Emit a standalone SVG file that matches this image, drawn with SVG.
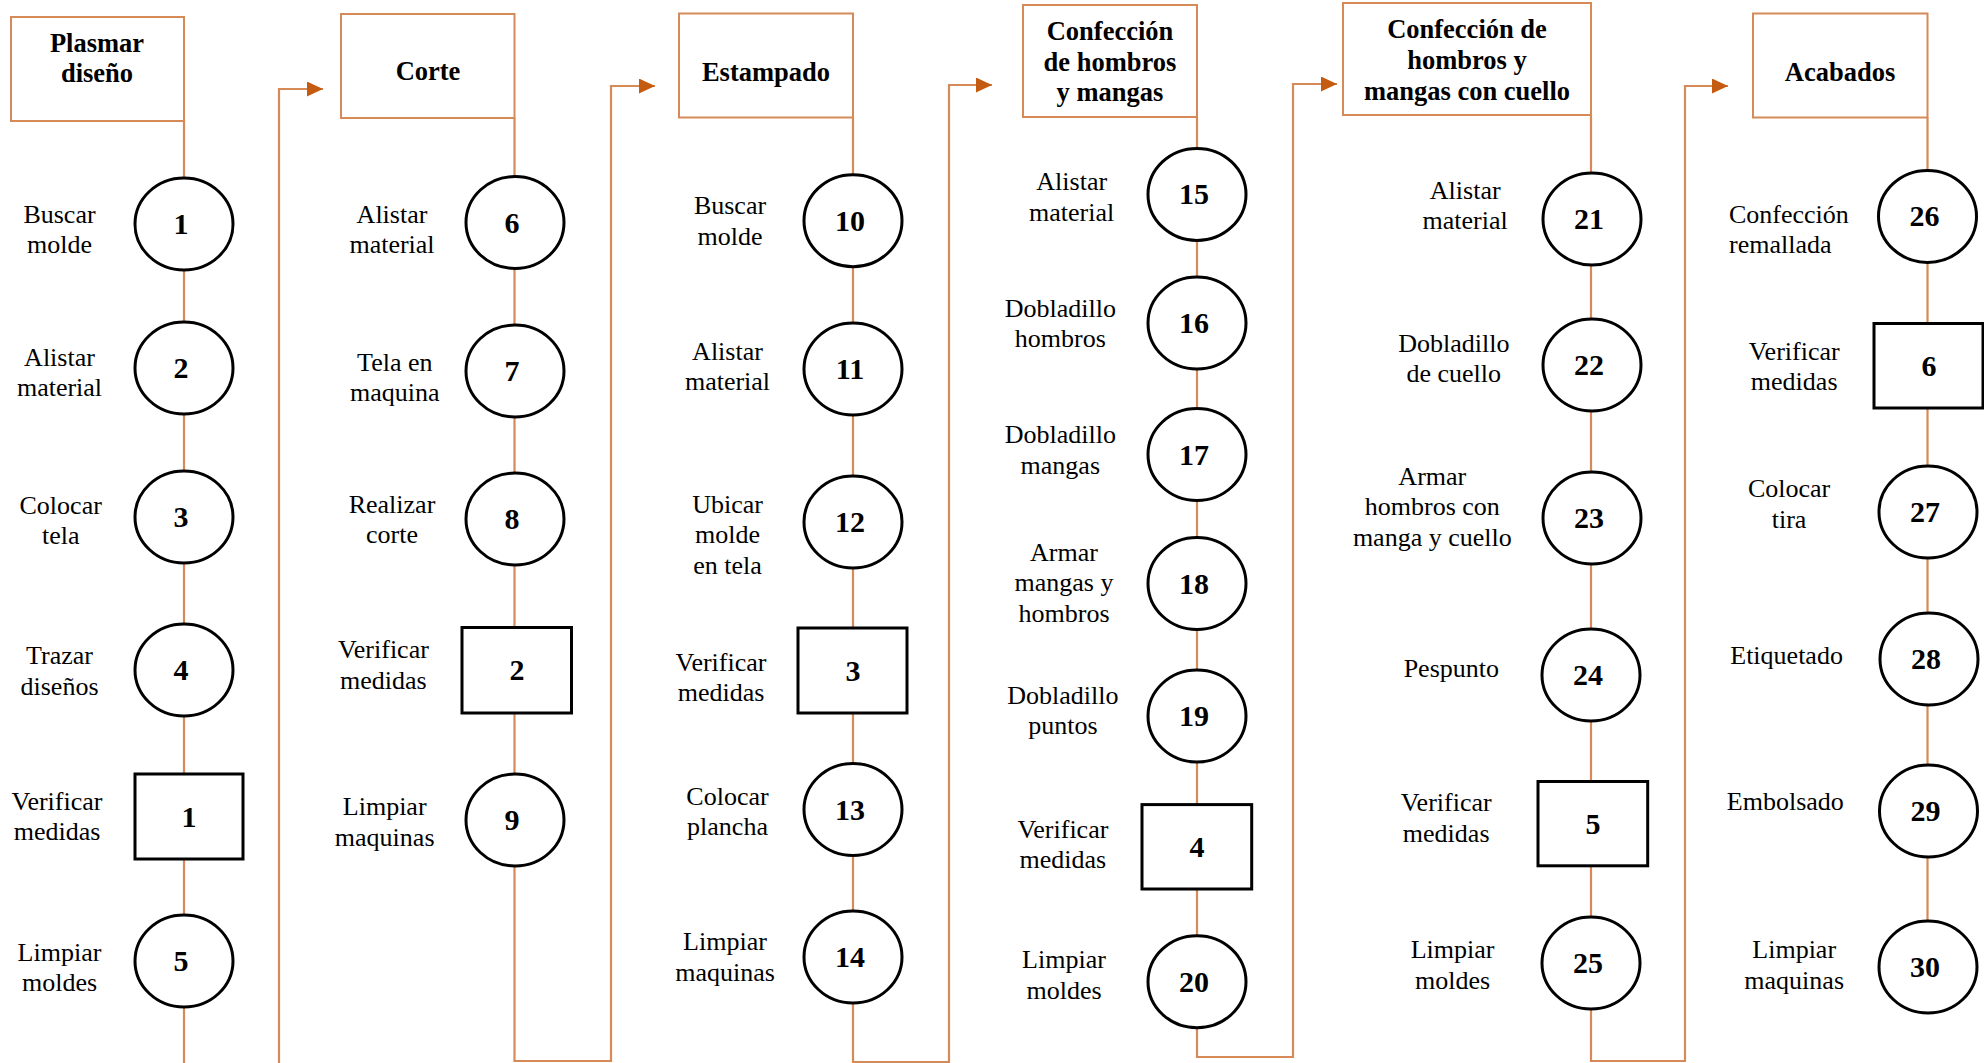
<svg xmlns="http://www.w3.org/2000/svg" width="1984" height="1063" viewBox="0 0 1984 1063">
<style>
.bg{fill:#ffffff}
.hdr{fill:#ffffff;stroke:#D68A58;stroke-width:2}
.ln{fill:none;stroke:#D68A58;stroke-width:2.2}
.op{fill:#ffffff;stroke:#000000;stroke-width:3}
.lbl{font-family:"Liberation Serif","Times New Roman",serif;font-size:26px;fill:#000;text-anchor:middle}
.lbll{font-family:"Liberation Serif","Times New Roman",serif;font-size:26px;fill:#000;text-anchor:start}
.ttl{font-family:"Liberation Serif","Times New Roman",serif;font-size:26.5px;font-weight:bold;fill:#000;text-anchor:middle}
.num{font-family:"Liberation Serif","Times New Roman",serif;font-size:30px;font-weight:bold;fill:#000;text-anchor:middle}
</style>
<defs>
<marker id="arr" markerUnits="userSpaceOnUse" viewBox="0 0 16 15" markerWidth="16" markerHeight="15" refX="16" refY="7.5" orient="auto">
<path d="M0,0 L16,7.5 L0,15 z" fill="#C55A11"/>
</marker>
</defs>
<rect class="bg" x="0" y="0" width="1984" height="1063"/>

<g id="connectors">
<line class="ln" x1="184" y1="121" x2="184" y2="1063"/>
<path class="ln" d="M279,1063 V89 H323" marker-end="url(#arr)"/>
<path class="ln" d="M514.5,118 V1061 H611 V86 H655" marker-end="url(#arr)"/>
<path class="ln" d="M853,117.6 V1062 H949 V85 H992" marker-end="url(#arr)"/>
<path class="ln" d="M1197,117 V1057 H1293 V84 H1337" marker-end="url(#arr)"/>
<path class="ln" d="M1591,115 V1061 H1685 V86 H1728" marker-end="url(#arr)"/>
<line class="ln" x1="1927.5" y1="117.6" x2="1927.5" y2="967"/>
</g>

<!-- Column 1 -->
<g id="h1"><rect class="hdr" x="11" y="17" width="173" height="104"/><text class="ttl" x="97" y="52">Plasmar</text><text class="ttl" x="97" y="82">diseño</text></g>
<g id="n1"><ellipse class="op" cx="184" cy="224" rx="49" ry="46"/><text class="num" x="181" y="234">1</text><text class="lbl" x="59.5" y="222.8">Buscar</text><text class="lbl" x="59.5" y="253.3">molde</text></g>
<g id="n2"><ellipse class="op" cx="184" cy="368" rx="49" ry="46"/><text class="num" x="181" y="378">2</text><text class="lbl" x="59.5" y="365.8">Alistar</text><text class="lbl" x="59.5" y="396.3">material</text></g>
<g id="n3"><ellipse class="op" cx="184" cy="517" rx="49" ry="46"/><text class="num" x="181" y="527">3</text><text class="lbl" x="60.7" y="513.9">Colocar</text><text class="lbl" x="60.7" y="544.4">tela</text></g>
<g id="n4"><ellipse class="op" cx="184" cy="670" rx="49" ry="46"/><text class="num" x="181" y="680">4</text><text class="lbl" x="59.5" y="664.4">Trazar</text><text class="lbl" x="59.5" y="694.9">diseños</text></g>
<g id="i1"><rect class="op" x="135" y="774" width="108" height="85"/><text class="num" x="189" y="827">1</text><text class="lbl" x="57" y="809.9">Verificar</text><text class="lbl" x="57" y="840.4">medidas</text></g>
<g id="n5"><ellipse class="op" cx="184" cy="961" rx="49" ry="46"/><text class="num" x="181" y="971">5</text><text class="lbl" x="59.5" y="960.5">Limpiar</text><text class="lbl" x="59.5" y="991">moldes</text></g>

<!-- Column 2 -->
<g id="h2"><rect class="hdr" x="341" y="14" width="173.5" height="104"/><text class="ttl" x="428" y="80">Corte</text></g>
<g id="n6"><ellipse class="op" cx="515" cy="222.5" rx="49" ry="46"/><text class="num" x="512" y="232.5">6</text><text class="lbl" x="392" y="222.8">Alistar</text><text class="lbl" x="392" y="253.3">material</text></g>
<g id="n7"><ellipse class="op" cx="515" cy="371" rx="49" ry="46"/><text class="num" x="512" y="381">7</text><text class="lbl" x="394.8" y="370.9">Tela en</text><text class="lbl" x="394.8" y="401.4">maquina</text></g>
<g id="n8"><ellipse class="op" cx="515" cy="519" rx="49" ry="46"/><text class="num" x="512" y="529">8</text><text class="lbl" x="392" y="512.6">Realizar</text><text class="lbl" x="392" y="543.1">corte</text></g>
<g id="i2"><rect class="op" x="462" y="627.5" width="109.5" height="85.5"/><text class="num" x="517" y="680">2</text><text class="lbl" x="383.4" y="658">Verificar</text><text class="lbl" x="383.4" y="688.5">medidas</text></g>
<g id="n9"><ellipse class="op" cx="515" cy="820" rx="49" ry="46"/><text class="num" x="512" y="830">9</text><text class="lbl" x="384.7" y="815">Limpiar</text><text class="lbl" x="384.7" y="845.5">maquinas</text></g>

<!-- Column 3 -->
<g id="h3"><rect class="hdr" x="679" y="13.5" width="174" height="104"/><text class="ttl" x="766" y="80.5">Estampado</text></g>
<g id="n10"><ellipse class="op" cx="853" cy="220.7" rx="49" ry="46"/><text class="num" x="850" y="230.7">10</text><text class="lbl" x="730" y="214">Buscar</text><text class="lbl" x="730" y="244.5">molde</text></g>
<g id="n11"><ellipse class="op" cx="853" cy="369" rx="49" ry="46"/><text class="num" x="850" y="379">11</text><text class="lbl" x="727.5" y="359.5">Alistar</text><text class="lbl" x="727.5" y="390">material</text></g>
<g id="n12"><ellipse class="op" cx="853" cy="522" rx="49" ry="46"/><text class="num" x="850" y="532">12</text><text class="lbl" x="727.5" y="512.6">Ubicar</text><text class="lbl" x="727.5" y="543.1">molde</text><text class="lbl" x="727.5" y="573.6">en tela</text></g>
<g id="i3"><rect class="op" x="798" y="628" width="109" height="85"/><text class="num" x="853" y="681">3</text><text class="lbl" x="721" y="670.8">Verificar</text><text class="lbl" x="721" y="701.3">medidas</text></g>
<g id="n13"><ellipse class="op" cx="853" cy="809.5" rx="49" ry="46"/><text class="num" x="850" y="819.5">13</text><text class="lbl" x="727.5" y="804.9">Colocar</text><text class="lbl" x="727.5" y="835.4">plancha</text></g>
<g id="n14"><ellipse class="op" cx="853" cy="957" rx="49" ry="46"/><text class="num" x="850" y="967">14</text><text class="lbl" x="725" y="950.4">Limpiar</text><text class="lbl" x="725" y="980.9">maquinas</text></g>

<!-- Column 4 -->
<g id="h4"><rect class="hdr" x="1023" y="5" width="174" height="112"/><text class="ttl" x="1110" y="40">Confección</text><text class="ttl" x="1110" y="71">de hombros</text><text class="ttl" x="1110" y="101">y mangas</text></g>
<g id="n15"><ellipse class="op" cx="1197" cy="194.4" rx="49" ry="46"/><text class="num" x="1194" y="204.4">15</text><text class="lbl" x="1071.7" y="190">Alistar</text><text class="lbl" x="1071.7" y="220.5">material</text></g>
<g id="n16"><ellipse class="op" cx="1197" cy="323" rx="49" ry="46"/><text class="num" x="1194" y="333">16</text><text class="lbl" x="1060.3" y="316.5">Dobladillo</text><text class="lbl" x="1060.3" y="347">hombros</text></g>
<g id="n17"><ellipse class="op" cx="1197" cy="454.5" rx="49" ry="46"/><text class="num" x="1194" y="464.5">17</text><text class="lbl" x="1060.3" y="443">Dobladillo</text><text class="lbl" x="1060.3" y="473.5">mangas</text></g>
<g id="n18"><ellipse class="op" cx="1197" cy="583.5" rx="49" ry="46"/><text class="num" x="1194" y="593.5">18</text><text class="lbl" x="1064" y="560.7">Armar</text><text class="lbl" x="1064" y="591.2">mangas y</text><text class="lbl" x="1064" y="621.7">hombros</text></g>
<g id="n19"><ellipse class="op" cx="1197" cy="716" rx="49" ry="46"/><text class="num" x="1194" y="726">19</text><text class="lbl" x="1062.9" y="703.6">Dobladillo</text><text class="lbl" x="1062.9" y="734.1">puntos</text></g>
<g id="i4"><rect class="op" x="1142" y="804.6" width="109.7" height="84.4"/><text class="num" x="1197" y="857">4</text><text class="lbl" x="1062.9" y="837.8">Verificar</text><text class="lbl" x="1062.9" y="868.3">medidas</text></g>
<g id="n20"><ellipse class="op" cx="1197" cy="981.7" rx="49" ry="46"/><text class="num" x="1194" y="991.7">20</text><text class="lbl" x="1064" y="968">Limpiar</text><text class="lbl" x="1064" y="998.5">moldes</text></g>

<!-- Column 5 -->
<g id="h5"><rect class="hdr" x="1343" y="3" width="248" height="112"/><text class="ttl" x="1467" y="38">Confección de</text><text class="ttl" x="1467" y="69">hombros y</text><text class="ttl" x="1467" y="100">mangas con cuello</text></g>
<g id="n21"><ellipse class="op" cx="1592" cy="219" rx="49" ry="46"/><text class="num" x="1589" y="229">21</text><text class="lbl" x="1465.2" y="198.8">Alistar</text><text class="lbl" x="1465.2" y="229.3">material</text></g>
<g id="n22"><ellipse class="op" cx="1592" cy="365" rx="49" ry="46"/><text class="num" x="1589" y="375">22</text><text class="lbl" x="1453.8" y="351.9">Dobladillo</text><text class="lbl" x="1453.8" y="382.4">de cuello</text></g>
<g id="n23"><ellipse class="op" cx="1592" cy="518" rx="49" ry="46"/><text class="num" x="1589" y="528">23</text><text class="lbl" x="1432.3" y="484.8">Armar</text><text class="lbl" x="1432.3" y="515.3">hombros con</text><text class="lbl" x="1432.3" y="545.8">manga y cuello</text></g>
<g id="n24"><ellipse class="op" cx="1591" cy="675" rx="49" ry="46"/><text class="num" x="1588" y="685">24</text><text class="lbl" x="1451.3" y="677">Pespunto</text></g>
<g id="i5"><rect class="op" x="1538" y="781.5" width="109.7" height="84.3"/><text class="num" x="1593" y="834">5</text><text class="lbl" x="1446.2" y="811.2">Verificar</text><text class="lbl" x="1446.2" y="841.7">medidas</text></g>
<g id="n25"><ellipse class="op" cx="1591" cy="963" rx="49" ry="46"/><text class="num" x="1588" y="973">25</text><text class="lbl" x="1452.6" y="958">Limpiar</text><text class="lbl" x="1452.6" y="988.5">moldes</text></g>

<!-- Column 6 -->
<g id="h6"><rect class="hdr" x="1753" y="13.5" width="174.5" height="104"/><text class="ttl" x="1840" y="80.5">Acabados</text></g>
<g id="n26"><ellipse class="op" cx="1927.5" cy="216.4" rx="49" ry="46"/><text class="num" x="1924.5" y="226.4">26</text><text class="lbll" x="1729" y="222.8">Confección</text><text class="lbll" x="1729" y="253.3">remallada</text></g>
<g id="i6"><rect class="op" x="1874" y="323.5" width="109" height="84.5"/><text class="num" x="1929" y="376">6</text><text class="lbl" x="1794.2" y="359.5">Verificar</text><text class="lbl" x="1794.2" y="390">medidas</text></g>
<g id="n27"><ellipse class="op" cx="1928" cy="512" rx="49" ry="46"/><text class="num" x="1925" y="522">27</text><text class="lbl" x="1789.1" y="497.4">Colocar</text><text class="lbl" x="1789.1" y="527.9">tira</text></g>
<g id="n28"><ellipse class="op" cx="1929" cy="659" rx="49" ry="46"/><text class="num" x="1926" y="669">28</text><text class="lbl" x="1786.6" y="664.4">Etiquetado</text></g>
<g id="n29"><ellipse class="op" cx="1928.5" cy="811" rx="49" ry="46"/><text class="num" x="1925.5" y="821">29</text><text class="lbl" x="1785.3" y="810">Embolsado</text></g>
<g id="n30"><ellipse class="op" cx="1928" cy="967" rx="49" ry="46"/><text class="num" x="1925" y="977">30</text><text class="lbl" x="1794.2" y="958">Limpiar</text><text class="lbl" x="1794.2" y="988.5">maquinas</text></g>
</svg>
